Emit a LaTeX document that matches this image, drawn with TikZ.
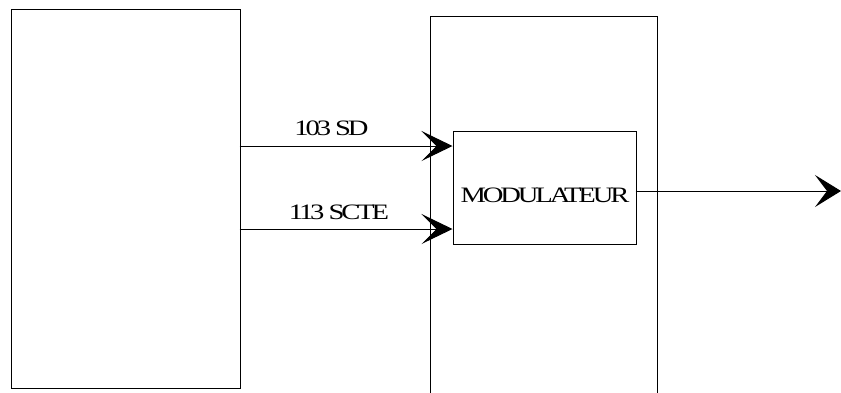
\documentclass[tikz,border=0pt]{standalone}
\usepackage{fontspec}
\setmainfont{Liberation Serif}
\newfontfamily\tightserif[LetterSpace=-11]{Liberation Serif}
\usetikzlibrary{arrows.meta}
\tikzset{
  box/.style={draw=black, line width=1pt, fill=none, inner sep=0pt, anchor=north west},
  lbl/.style={font=\tightserif\fontsize{22}{22}\selectfont, inner sep=0pt, anchor=base},
  arr/.style={line width=1pt, -{Stealth[length=31pt, width=30pt, inset=15pt]}},
  arrout/.style={line width=1pt, -{Stealth[length=26pt, width=32pt, inset=12pt]}}
}
\newcommand{\wide}[1]{\scalebox{1.3}[1]{#1}}
\begin{document}
\begin{tikzpicture}[x=1pt, y=-1pt]
\useasboundingbox (0,0) rectangle (841,392);
\clip (0,0) rectangle (841,392);
\node[box, minimum width=228.5pt, minimum height=379.5pt] (src) at (11,8.5) {};
\node[box, minimum width=227.5pt, minimum height=400pt] (dce) at (429.5,16) {};
\node[box, minimum width=183pt, minimum height=113pt] (mod) at (452.5,131) {};
\node[lbl] (modt) at (545,202) {\wide{MODULATEUR}};
\coordinate (p1) at (239.5,146);
\coordinate (p2) at (239.5,229);
\coordinate (p3) at (635.5,191);
\coordinate (out) at (841,191);
\draw[arr] (p1) -- (p1 -| mod.west);
\draw[arr] (p2) -- (p2 -| mod.west);
\draw[arrout] (p3) -- (out);
\node[lbl] (l1) at (331.5,135) {\wide{103 SD}};
\node[lbl] (l2) at (339,219) {\wide{113 SCTE}};
\end{tikzpicture}
\end{document}
